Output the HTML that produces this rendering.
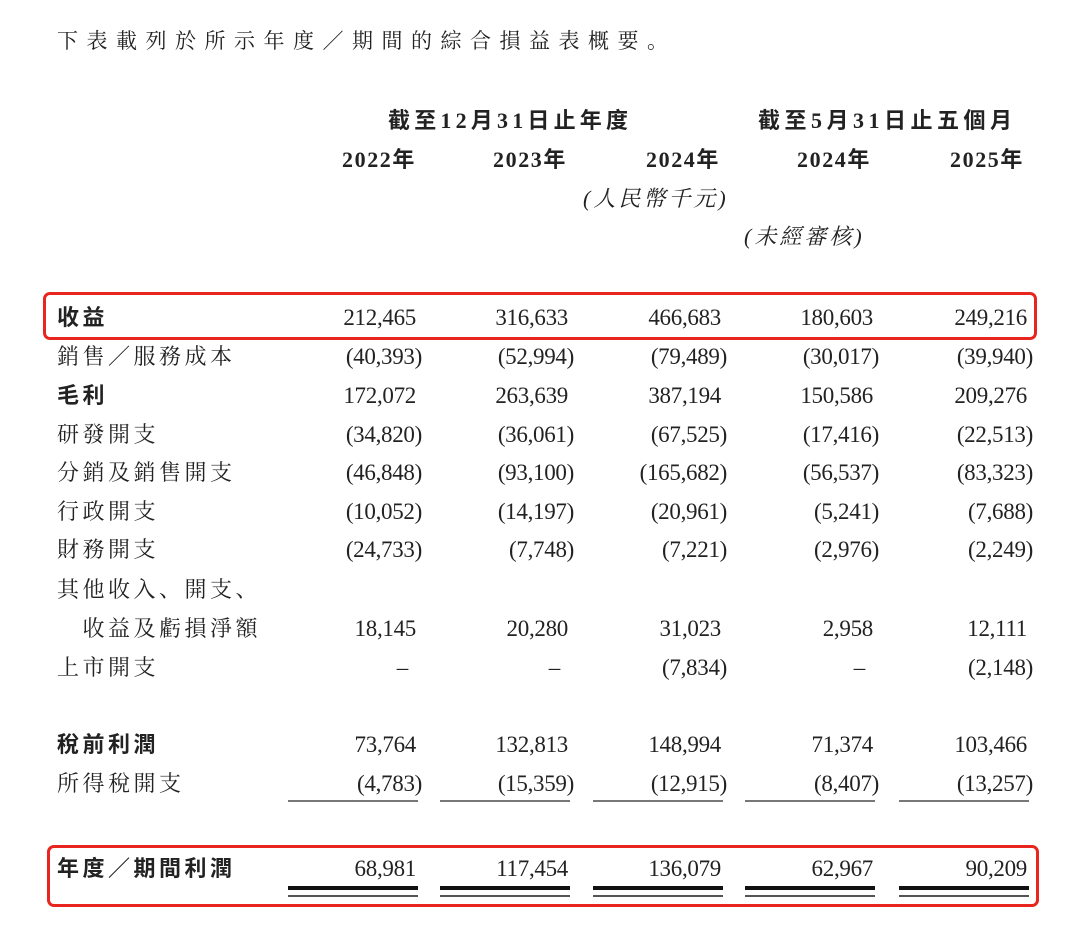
<!DOCTYPE html>
<html><head><meta charset="utf-8"><style>
body{margin:0;width:1080px;height:932px;background:#fff;position:relative;overflow:hidden;color:#222}
.t{position:absolute;white-space:nowrap;line-height:1}
.cj{font-family:"Liberation Serif","Noto Serif CJK SC","Noto Sans CJK TC",serif;font-size:22px;letter-spacing:3.5px}
.b{font-family:"Liberation Serif","Noto Sans CJK TC",sans-serif;font-weight:bold}
.n{font-family:"Liberation Serif",serif;font-size:23px;text-align:right;width:150px;letter-spacing:-0.3px}
.ul{position:absolute;height:2px;background:#777}
.d1{position:absolute;height:4px;background:#111}
.d2{position:absolute;height:2px;background:#555}
.box{position:absolute;border:3px solid #e8261f;border-radius:7px}
</style></head><body>
<div class="t cj" style="left:57px;top:31px;font-size:21px;letter-spacing:8.5px">下表載列於所示年度／期間的綜合損益表概要。</div>
<div class="t cj b" style="left:388px;top:110px;letter-spacing:4.2px">截至12月31日止年度</div>
<div class="t cj b" style="left:758px;top:110px;letter-spacing:4.5px">截至5月31日止五個月</div>
<div class="t cj b" style="left:342px;top:149px;letter-spacing:1.6px">2022年</div>
<div class="t cj b" style="left:493px;top:149px;letter-spacing:1.6px">2023年</div>
<div class="t cj b" style="left:646px;top:149px;letter-spacing:1.6px">2024年</div>
<div class="t cj b" style="left:797px;top:149px;letter-spacing:1.6px">2024年</div>
<div class="t cj b" style="left:950px;top:149px;letter-spacing:1.6px">2025年</div>
<div class="t cj" style="left:583px;top:188px;font-style:italic;letter-spacing:3px">(人民幣千元)</div>
<div class="t cj" style="left:744px;top:226px;font-style:italic;letter-spacing:3px">(未經審核)</div>

<div class="box" style="left:43px;top:292px;width:988px;height:42px"></div>
<div class="box" style="left:47px;top:845px;width:986px;height:56px"></div>

<div id="rows"></div>
<script>
var rows=[
["收益",307,["212,465","316,633","466,683","180,603","249,216"],1],
["銷售／服務成本",346,["(40,393)","(52,994)","(79,489)","(30,017)","(39,940)"]],
["毛利",385,["172,072","263,639","387,194","150,586","209,276"],1],
["研發開支",424,["(34,820)","(36,061)","(67,525)","(17,416)","(22,513)"]],
["分銷及銷售開支",462,["(46,848)","(93,100)","(165,682)","(56,537)","(83,323)"]],
["行政開支",501,["(10,052)","(14,197)","(20,961)","(5,241)","(7,688)"]],
["財務開支",539,["(24,733)","(7,748)","(7,221)","(2,976)","(2,249)"]],
["其他收入、開支、",579,null],
["　收益及虧損淨額",618,["18,145","20,280","31,023","2,958","12,111"]],
["上市開支",657,["–","–","(7,834)","–","(2,148)"]],
["稅前利潤",734,["73,764","132,813","148,994","71,374","103,466"],1],
["所得稅開支",773,["(4,783)","(15,359)","(12,915)","(8,407)","(13,257)"]],
["年度／期間利潤",858,["68,981","117,454","136,079","62,967","90,209"],1]];
var R=[416,568,721,873,1027],h="";
rows.forEach(function(r){
h+='<div class="t cj'+(r[3]?' b':'')+'" style="left:57px;top:'+r[1]+'px">'+r[0]+'</div>';
if(r[2])r[2].forEach(function(v,i){
var isParen=v.charAt(v.length-1)==')';var dash=v=='–';
var right=isParen?R[i]+6:(dash?R[i]-8:R[i]);
h+='<div class="t n" style="left:'+(right-150)+'px;top:'+(r[1]-1)+'px">'+v+'</div>';});
});
R.forEach(function(x){
h+='<div class="ul" style="left:'+(x-128)+'px;top:800px;width:130px"></div>';
h+='<div class="d1" style="left:'+(x-128)+'px;top:886px;width:130px"></div>';
h+='<div class="d2" style="left:'+(x-128)+'px;top:895px;width:130px"></div>';
});
document.getElementById('rows').innerHTML=h;
</script>
</body></html>
